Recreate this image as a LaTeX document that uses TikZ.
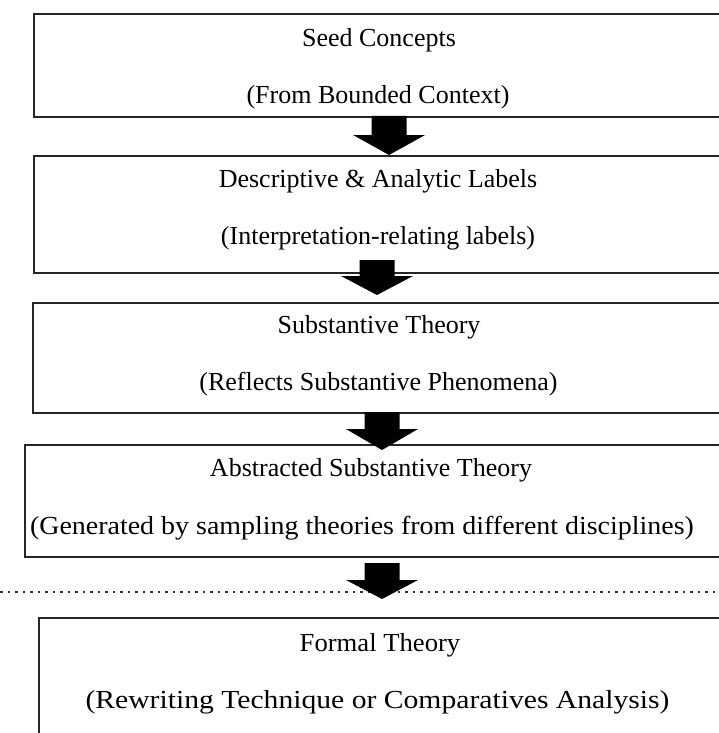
\documentclass[tikz,border=0pt]{standalone}
\usepackage{fontspec}
\setmainfont{Liberation Serif}
\begin{document}
\begin{tikzpicture}[x=1pt,y=-1pt,
  stagebox/.style={draw=black!85,line width=1.8pt,rectangle,inner sep=0pt,anchor=north west,minimum width=760pt},
  lbl/.style={anchor=base,inner sep=0pt,font=\fontsize{26}{30}\selectfont},
  blockarrow/.style={fill=black,draw=none}]
\useasboundingbox (0,0) rectangle (719,733);
\clip (0,0) rectangle (719,733);
\fill[white] (0,0) rectangle (719,733);
% boxes
\node[stagebox,minimum height=103pt] (b1) at (33,13) {};
\node[stagebox,minimum height=117pt] (b2) at (33,155) {};
\node[stagebox,minimum height=110pt] (b3) at (32,302) {};
\node[stagebox,minimum height=112pt] (b4) at (24,444) {};
\node[stagebox,minimum height=200pt] (b5) at (38,617) {};
% texts
\node[lbl] (t1a) at (379,46.5) {Seed Concepts};
\node[lbl] (t1b) at (378,103) {(From Bounded Context)};
\node[lbl] (t2a) at (378,187.5) {Descriptive \& Analytic Labels};
\node[lbl] (t2b) at (378,244) {(Interpretation-relating labels)};
\node[lbl] (t3a) at (379,333.5) {Substantive Theory};
\node[lbl] (t3b) at (378.5,390) {(Reflects Substantive Phenomena)};
\node[lbl] (t4a) at (371,476.5) {Abstracted Substantive Theory};
\node[lbl] (t4b) at (362,534) {\scalebox{1.075}[1]{(Generated by sampling theories from different disciplines)}};
\node[lbl] (t5a) at (380,651.5) {\scalebox{1.025}[1]{Formal Theory}};
\node[lbl] (t5b) at (377.5,708) {\scalebox{1.14}[1]{(Rewriting Technique or Comparatives Analysis)}};
% dotted separator
\coordinate (dl) at (0,592);
\coordinate (dr) at (719,592);
\draw[line width=1.4pt,dash pattern=on 2.5pt off 5pt,black!80] (dl) -- (dr);
% block arrows
\newcommand{\blockarr}[4]{%
  \fill[blockarrow] (#1-17.5,#2) -- (#1+17.5,#2) -- (#1+17.5,#3) -- (#1+36,#3)
    -- (#1,#4) -- (#1-36,#3) -- (#1-17.5,#3) -- cycle;}
\blockarr{389}{116}{135}{155}
\blockarr{377}{260}{276}{295}
\blockarr{382}{412}{429}{450}
\blockarr{382}{563}{580}{599}
\end{tikzpicture}
\end{document}
